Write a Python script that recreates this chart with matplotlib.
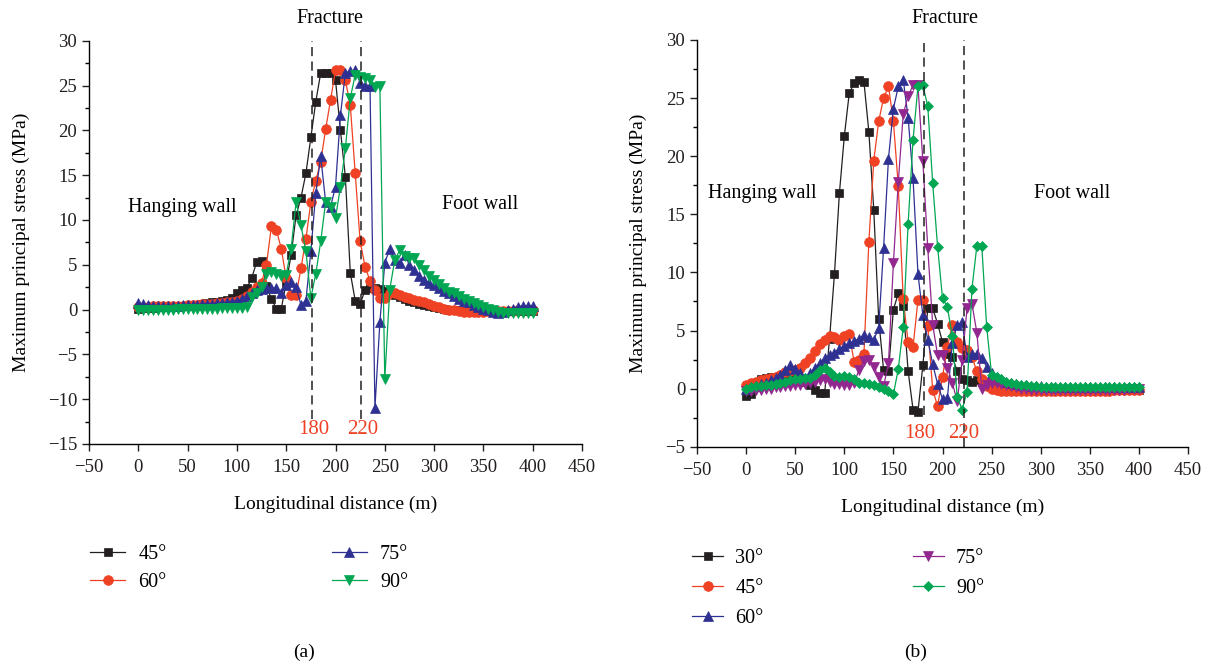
import numpy as np
import matplotlib
matplotlib.use('Agg')
import matplotlib.pyplot as plt
from matplotlib.ticker import MultipleLocator
from matplotlib.transforms import blended_transform_factory

plt.rcParams['font.family'] = ['Liberation Serif', 'DejaVu Serif']
plt.rcParams['axes.linewidth'] = 1.0

# distance along the roadway (m), one value every 5 m
distance = np.arange(0, 405, 5)

# ---- (a) stress for dip angles 45-90 deg ----
a_45 = [0.1, 0.15, 0.2, 0.2, 0.25, 0.3, 0.3, 0.35, 0.4, 0.4,
        0.45, 0.5, 0.55, 0.6, 0.7, 0.8, 0.9, 1.0, 1.1, 1.3,
        1.8, 2.2, 2.4, 3.5, 5.3, 5.4, 2.6, 1.2, 0.1, 0.1,
        3.0, 6.1, 10.5, 12.5, 15.2, 19.2, 23.2, 26.4, 26.4, 26.4,
        25.6, 20.0, 14.8, 4.1, 1.0, 0.6, 2.2, 2.4, 2.4, 2.3,
        2.1, 1.9, 1.6, 1.4, 1.2, 1.0, 0.8, 0.6, 0.5, 0.4,
        0.3, 0.2, 0.1, 0.0, -0.1, -0.1, -0.15, -0.2, -0.2, -0.2,
        -0.2, -0.2, -0.2, -0.2, -0.2, -0.2, -0.2, -0.2, -0.2, -0.2,
        -0.2]
a_60 = [0.3, 0.3, 0.3, 0.35, 0.35, 0.4, 0.4, 0.4, 0.45, 0.45,
        0.5, 0.5, 0.55, 0.6, 0.6, 0.65, 0.7, 0.75, 0.8, 0.9,
        1.0, 1.2, 1.5, 2.0, 2.5, 3.0, 5.0, 9.3, 8.9, 6.8,
        3.5, 1.6, 1.6, 4.6, 7.9, 12.0, 14.4, 16.5, 20.1, 23.4,
        26.7, 26.7, 25.6, 22.8, 15.2, 7.6, 4.8, 3.2, 2.2, 1.3,
        1.3, 1.9, 1.8, 1.6, 1.4, 1.3, 1.1, 1.0, 0.8, 0.6,
        0.4, 0.3, 0.1, 0.0, -0.1, -0.2, -0.25, -0.25, -0.25, -0.25,
        -0.25, -0.2, -0.2, -0.2, -0.2, -0.2, -0.15, -0.1, -0.1, -0.05,
        0.0]
a_75 = [0.7, 0.6, 0.5, 0.45, 0.4, 0.4, 0.4, 0.45, 0.45, 0.5,
        0.5, 0.5, 0.55, 0.6, 0.6, 0.65, 0.7, 0.75, 0.8, 0.9,
        1.0, 1.2, 1.5, 1.8, 2.2, 2.3, 2.5, 2.4, 2.4, 1.8,
        2.7, 3.1, 2.5, 0.5, 1.0, 6.5, 13.0, 17.1, 12.0, 11.5,
        13.7, 21.7, 26.4, 26.6, 26.7, 25.3, 25.0, 25.0, -11.0, -1.4,
        5.2, 6.8, 5.5, 5.2, 6.1, 5.0, 4.4, 3.8, 3.3, 3.0,
        2.7, 2.4, 2.1, 1.8, 1.5, 1.2, 1.0, 0.8, 0.5, 0.3,
        0.1, -0.1, -0.3, -0.4, -0.3, -0.1, 0.1, 0.3, 0.4, 0.4,
        0.4]
a_90 = [-0.1, -0.1, -0.1, -0.1, -0.05, 0.0, 0.0, 0.0, 0.05, 0.05,
        0.05, 0.1, 0.1, 0.1, 0.1, 0.1, 0.1, 0.15, 0.15, 0.15,
        0.15, 0.2, 0.3, 1.4, 1.9, 2.5, 4.0, 4.2, 4.0, 3.8,
        3.9, 6.8, 12.0, 9.4, 6.5, 1.3, 4.0, 7.6, 12.0, 11.5,
        10.2, 13.7, 18.0, 23.6, 26.2, 26.0, 25.8, 25.6, 24.8, 25.0,
        -7.8, 2.2, 5.5, 6.6, 6.0, 5.8, 5.7, 5.0, 4.4, 3.8,
        3.3, 2.9, 2.4, 2.0, 1.8, 1.5, 1.2, 1.0, 0.7, 0.5,
        0.3, 0.1, -0.1, -0.3, -0.4, -0.4, -0.4, -0.4, -0.4, -0.4,
        -0.4]

# ---- (b) stress for dip angles 30-90 deg ----
b_30 = [-0.6, -0.5, 0.5, 0.8, 0.9, 1.0, 0.9, 0.8, 0.7, 0.8,
        0.9, 0.7, 0.6, 0.3, -0.1, -0.4, -0.4, 4.3, 9.9, 16.8,
        21.7, 25.4, 26.3, 26.6, 26.4, 22.1, 15.4, 6.0, 1.6, 1.5,
        6.8, 8.2, 7.1, 1.5, -1.8, -2.0, 2.0, 6.9, 6.9, 5.6,
        4.0, 3.0, 2.7, 1.5, 0.8, 0.7, 0.6, 0.7, 0.6, 0.5,
        0.4, 0.4, 0.3, 0.3, 0.2, 0.2, 0.1, 0.1, 0.0, 0.0,
        0.0, 0.0, -0.1, -0.1, -0.1, -0.1, -0.1, -0.1, -0.1, -0.1,
        -0.1, -0.1, -0.1, -0.1, -0.1, -0.1, -0.1, -0.1, -0.1, -0.1,
        -0.1]
b_45 = [0.3, 0.5, 0.6, 0.7, 0.8, 0.9, 1.0, 1.2, 1.4, 1.5,
        1.6, 1.8, 2.2, 2.6, 3.2, 3.8, 4.2, 4.5, 4.4, 4.2,
        4.5, 4.7, 2.3, 2.5, 3.0, 12.6, 19.6, 23.0, 25.0, 26.0,
        23.0, 17.4, 7.7, 4.0, 3.6, 7.6, 7.6, 5.4, -0.1, -1.5,
        1.0, 3.6, 5.5, 4.0, 3.5, 3.3, 2.7, 1.5, 0.8, 0.2,
        0.0, -0.1, -0.2, -0.2, -0.2, -0.2, -0.2, -0.2, -0.2, -0.2,
        -0.2, -0.2, -0.2, -0.2, -0.2, -0.2, -0.2, -0.2, -0.2, -0.2,
        -0.2, -0.2, -0.2, -0.2, -0.2, -0.15, -0.15, -0.1, -0.1, -0.1,
        -0.1]
b_60 = [0.0, 0.1, 0.2, 0.4, 0.5, 0.7, 0.9, 1.2, 1.6, 2.0,
        1.7, 1.3, 0.9, 1.3, 1.8, 2.2, 2.6, 2.9, 3.1, 3.4,
        3.7, 3.9, 4.1, 4.3, 4.6, 4.4, 4.2, 5.2, 12.1, 19.8,
        24.1, 26.0, 26.6, 23.3, 18.1, 9.9, 6.3, 4.2, 2.1, 0.4,
        -0.9, -0.8, 3.9, 5.5, 5.7, 2.7, 3.0, 3.0, 2.6, 1.9,
        1.3, 1.0, 0.8, 0.6, 0.5, 0.4, 0.35, 0.3, 0.25, 0.2,
        0.2, 0.15, 0.15, 0.1, 0.1, 0.1, 0.1, 0.1, 0.1, 0.1,
        0.1, 0.1, 0.1, 0.1, 0.1, 0.1, 0.1, 0.1, 0.1, 0.1,
        0.1]
b_75 = [-0.2, -0.2, -0.1, -0.1, 0.0, 0.0, 0.1, 0.1, 0.2, 0.2,
        0.3, 0.3, 0.4, 0.5, 0.6, 0.7, 0.8, 0.6, 0.4, 0.4,
        0.3, 0.3, 0.5, 1.6, 2.4, 2.5, 1.9, 1.0, 0.2, 2.2,
        10.8, 17.8, 23.6, 25.2, 26.1, 26.1, 19.6, 12.1, 5.5, 2.9,
        2.9, 1.8, 0.5, -1.1, 2.5, 6.9, 7.3, 4.8, 0.0, 0.3,
        0.5, 0.5, 0.4, 0.3, 0.2, 0.1, 0.0, 0.0, -0.1, -0.1,
        -0.1, -0.1, -0.1, -0.1, -0.1, -0.1, -0.1, -0.1, -0.1, -0.1,
        -0.1, -0.1, -0.1, -0.1, -0.1, -0.1, -0.1, -0.1, -0.05, 0.0,
        0.0]
b_90 = [0.0, 0.1, 0.2, 0.2, 0.3, 0.3, 0.4, 0.5, 0.6, 0.7,
        0.8, 0.8, 0.9, 0.9, 1.2, 1.6, 1.75, 1.4, 1.1, 1.0,
        1.1, 1.0, 0.8, 0.5, 0.5, 0.4, 0.3, 0.1, 0.0, -0.2,
        -0.5, 1.7, 5.3, 14.2, 21.4, 26.0, 26.1, 24.3, 17.7, 12.2,
        7.8, 7.0, 4.5, -0.7, -1.8, -0.3, 8.6, 12.3, 12.3, 5.3,
        1.2, 1.0, 0.8, 0.6, 0.5, 0.4, 0.3, 0.3, 0.2, 0.2,
        0.15, 0.15, 0.15, 0.15, 0.15, 0.15, 0.15, 0.15, 0.15, 0.15,
        0.1, 0.1, 0.1, 0.1, 0.1, 0.1, 0.1, 0.1, 0.1, 0.1,
        0.1]

a_labels = ['45°', '60°', '75°', '90°']
b_labels = ['30°', '45°', '60°', '75°', '90°']
fracture_a = [176, 226]     # where the dashed lines sit in (a)
fracture_b = [181.5, 222.4]

black = '#231f20'
red = '#ef4123'
blue = '#2e3192'
green = '#00a651'
purple = '#92278f'

fig = plt.figure(figsize=(12.2, 6.67), dpi=100)
ax_a = fig.add_axes([89/1220, 1 - 444/667, (582 - 89)/1220, (444 - 40.7)/667])
ax_b = fig.add_axes([697/1220, 1 - 446.7/667, (1188 - 697)/1220, (446.7 - 40)/667])


def style_axes(ax, ymin, ymax):
    ax.set_xlim(-50, 450)
    ax.set_ylim(ymin, ymax)
    ax.spines['top'].set_visible(False)
    ax.spines['right'].set_visible(False)
    ax.xaxis.set_major_locator(MultipleLocator(50))
    ax.yaxis.set_major_locator(MultipleLocator(5))
    ax.yaxis.set_minor_locator(MultipleLocator(2.5))
    ax.tick_params(which='major', direction='out', length=5, width=1,
                   labelsize=13.5, colors='#231f20')
    ax.tick_params(axis='x', which='major', pad=6)
    ax.tick_params(which='minor', direction='out', length=3, width=1)
    ax.set_xlabel('Longitudinal distance (m)', fontsize=14, labelpad=14)
    ax.set_ylabel('Maximum principal stress (MPa)', fontsize=14, labelpad=13)


def draw(ax, y, color, marker, ms, label):
    ax.plot(distance, y, color=color, lw=0.9, marker=marker, ms=ms,
            mec=color, mew=0.5, label=label)


# panel (a)
draw(ax_a, a_45, black, 's', 6, a_labels[0])
draw(ax_a, a_60, red, 'o', 7, a_labels[1])
draw(ax_a, a_75, blue, '^', 7.5, a_labels[2])
draw(ax_a, a_90, green, 'v', 7.5, a_labels[3])
style_axes(ax_a, -15, 30)
ax_a.vlines(fracture_a, -12.2, 30, colors='#231f20', linestyles=(0, (6, 3.5)), lw=1.1)
ax_a.text(177.5, -13.4, '180', color=red, ha='center', va='center', fontsize=15)
ax_a.text(228, -13.4, '220', color=red, ha='center', va='center', fontsize=15)
ax_a.text(-10.5, 11.4, 'Hanging wall', ha='left', va='center', fontsize=14.5)
ax_a.text(308, 11.7, 'Foot wall', ha='left', va='center', fontsize=14.5)
ta = blended_transform_factory(ax_a.transData, ax_a.transAxes)
ax_a.text(194, 1.054, 'Fracture', transform=ta, ha='center', va='center', fontsize=14.5)
ax_a.legend(loc='upper left', bbox_to_anchor=(90/1220, 1 - 545/667),
            bbox_transform=fig.transFigure, ncol=2, frameon=False,
            fontsize=14.5, handlelength=1.75, handletextpad=0.65,
            columnspacing=8.2, labelspacing=0.45, borderpad=0, borderaxespad=0)

# panel (b)
draw(ax_b, b_30, black, 's', 6, b_labels[0])
draw(ax_b, b_45, red, 'o', 7, b_labels[1])
draw(ax_b, b_60, blue, '^', 7.5, b_labels[2])
draw(ax_b, b_75, purple, 'v', 7.5, b_labels[3])
draw(ax_b, b_90, green, 'D', 5.2, b_labels[4])
style_axes(ax_b, -5, 30)
ax_b.vlines(fracture_b[0], -2.3, 30, colors='#231f20', linestyles=(0, (6, 3.5)), lw=1.1)
ax_b.vlines(fracture_b[1], -5, 30, colors='#231f20', linestyles=(0, (6, 3.5)), lw=1.1)
ax_b.text(177, -3.9, '180', color=red, ha='center', va='center', fontsize=15)
ax_b.text(222, -3.9, '220', color=red, ha='center', va='center', fontsize=15)
ax_b.text(-39, 16.8, 'Hanging wall', ha='left', va='center', fontsize=14.5)
ax_b.text(293, 16.8, 'Foot wall', ha='left', va='center', fontsize=14.5)
tb = blended_transform_factory(ax_b.transData, ax_b.transAxes)
ax_b.text(202, 1.052, 'Fracture', transform=tb, ha='center', va='center', fontsize=14.5)
ax_b.legend(loc='upper left', bbox_to_anchor=(692/1220, 1 - 549/667),
            bbox_transform=fig.transFigure, ncol=2, frameon=False,
            fontsize=14.5, handlelength=1.55, handletextpad=0.6,
            columnspacing=7.4, labelspacing=0.55, borderpad=0, borderaxespad=0)

fig.text(304/1220, 1 - 652/667, '(a)', ha='center', va='center', fontsize=14)
fig.text(916/1220, 1 - 652/667, '(b)', ha='center', va='center', fontsize=14)

fig.savefig('out.png', dpi=100)
